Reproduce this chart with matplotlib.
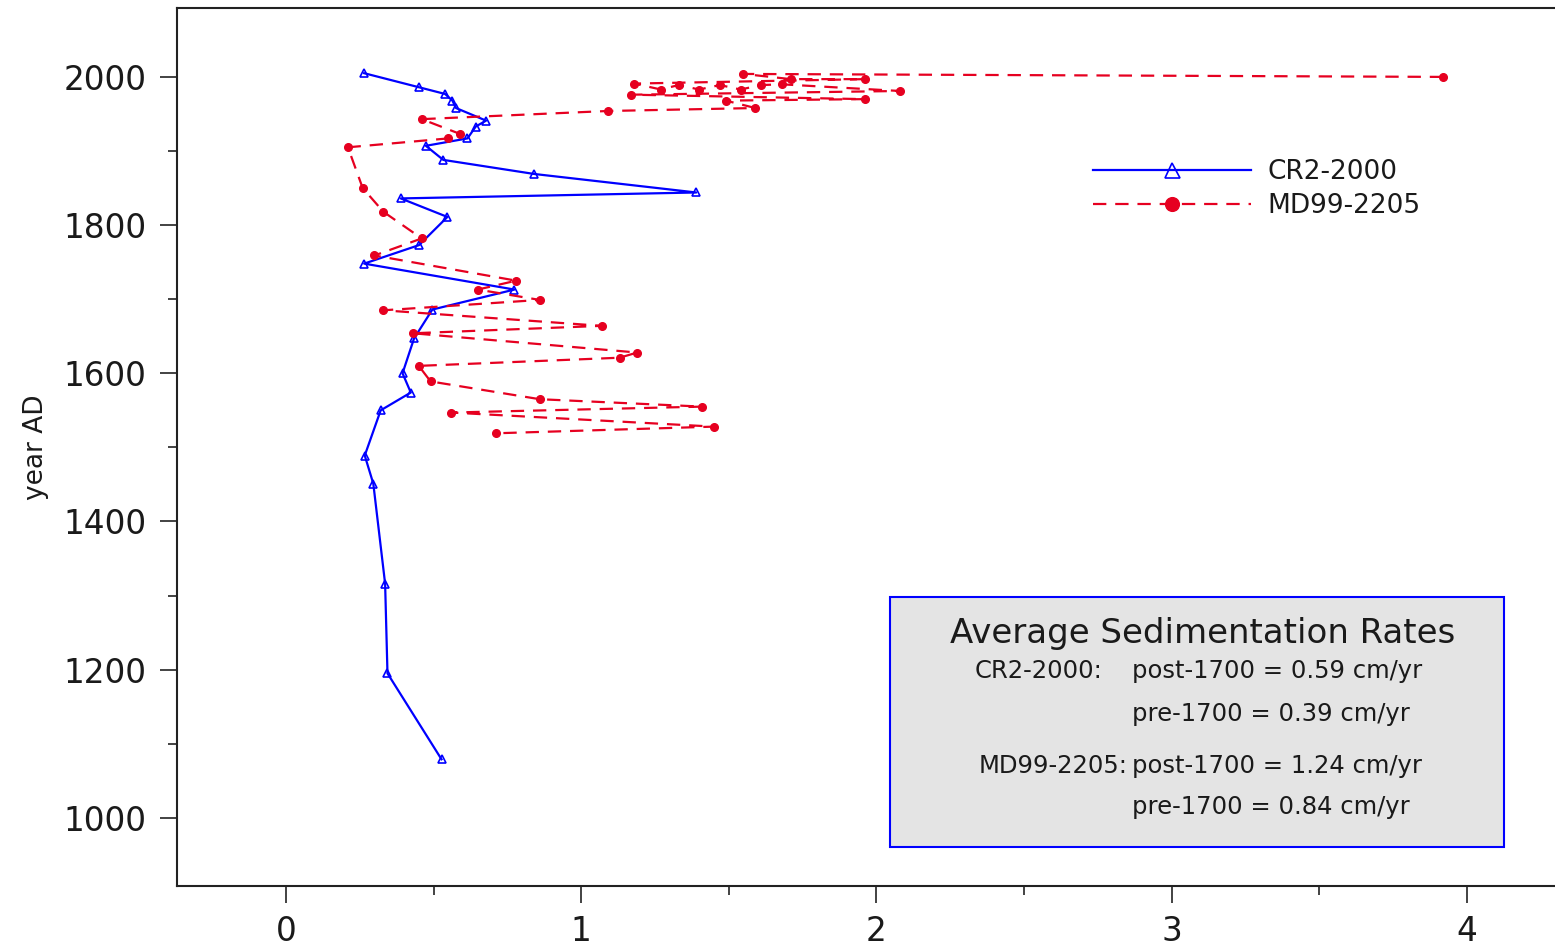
import numpy as np
import matplotlib
matplotlib.use("Agg")
import matplotlib.pyplot as plt
from matplotlib.patches import Rectangle

plt.rcParams['font.family'] = ['DejaVu Sans']

# CR2-2000 sedimentation rate (cm/yr) vs year AD
cr2_rate = [0.265, 0.451, 0.539, 0.564, 0.576, 0.678, 0.643, 0.615, 0.474, 0.533,
            0.841, 1.39, 0.389, 0.547, 0.451, 0.265, 0.774, 0.496, 0.434, 0.395,
            0.423, 0.321, 0.267, 0.296, 0.336, 0.344, 0.527]
cr2_year = [2005, 1986, 1977, 1968, 1958, 1941, 1933, 1917, 1907, 1888,
            1869, 1844, 1836, 1811, 1773, 1748, 1713, 1686, 1647, 1600,
            1574, 1550, 1489, 1451, 1316, 1195, 1079]

# MD99-2205
md_rate = [3.92, 1.55, 1.71, 1.96, 1.18, 1.27, 1.33, 1.40, 1.47, 1.54,
           1.61, 1.68, 2.08, 1.17, 1.96, 1.49, 1.59, 1.09, 0.46, 0.59,
           0.55, 0.21, 0.26, 0.33, 0.46, 0.30, 0.78, 0.65, 0.86, 0.33,
           1.07, 0.43, 1.19, 1.13, 0.45, 0.49, 0.86, 1.41, 0.56, 1.45, 0.71]
md_year = [2000, 2004, 1997, 1997, 1991, 1983, 1989, 1983, 1989, 1983,
           1989, 1990, 1981, 1976, 1970, 1968, 1958, 1954, 1943, 1923,
           1917, 1905, 1850, 1818, 1782, 1759, 1725, 1713, 1699, 1685,
           1664, 1654, 1628, 1621, 1610, 1589, 1565, 1555, 1547, 1528, 1519]

box_title = "Average Sedimentation Rates"
box_lines = [("CR2-2000:", "post-1700 = 0.59 cm/yr"),
             ("", "pre-1700 = 0.39 cm/yr"),
             ("MD99-2205:", "post-1700 = 1.24 cm/yr"),
             ("", "pre-1700 = 0.84 cm/yr")]

fig = plt.figure(figsize=(15.55, 9.5), dpi=100)
ax = fig.add_axes([177/1555, 64/950, 1 - 177/1555, 878/950])

red = '#e60020'
ax.plot(cr2_rate, cr2_year, '-', color='blue', lw=1.6, marker='^',
        ms=6, mfc='none', mec='blue', mew=1.2, label="CR2-2000")
ax.plot(md_rate, md_year, color=red, lw=1.6, ls=(0, (6, 4)), marker='o',
        ms=5.5, mfc=red, mec=red, label="MD99-2205")

ax.set_xlim(-0.369, 4.299)
ax.set_ylim(908, 2093)
ax.set_xticks([0, 1, 2, 3, 4])
ax.set_xticks([0.5, 1.5, 2.5, 3.5], minor=True)
ax.set_yticks([1000, 1200, 1400, 1600, 1800, 2000])
ax.set_yticks([1100, 1300, 1500, 1700, 1900], minor=True)
ax.tick_params(which='major', length=12, width=1.2, labelsize=23.5, color='#222222',
               labelcolor='#1a1a1a')
ax.tick_params(which='minor', length=6.5, width=1.2, color='#222222')
ax.tick_params(axis='x', which='major', pad=9)
ax.tick_params(axis='y', which='major', pad=10)
ax.set_ylabel("year AD", fontsize=19, labelpad=10, color='#1a1a1a')
for s in ['left', 'bottom', 'top']:
    ax.spines[s].set_linewidth(1.5)
    ax.spines[s].set_color('#222222')
ax.spines['right'].set_visible(False)

leg = ax.legend(loc='center left', bbox_to_anchor=(0.6647, 0.794), frameon=False,
                fontsize=19, handlelength=6, handletextpad=0.6, labelspacing=0.3,
                borderpad=0, borderaxespad=0, markerscale=1.8)
for t in leg.get_texts():
    t.set_color('#1a1a1a')

# summary box
x0, x1 = (890 - 177) / 1378, (1504 - 177) / 1378
y0, y1 = (886 - 847) / 878, (886 - 597) / 878
ax.add_patch(Rectangle((x0, y0), x1 - x0, y1 - y0, transform=ax.transAxes,
                       facecolor='#e4e4e4', edgecolor='blue', lw=1.5, zorder=5))

def ax_x(px):
    return (px - 177) / 1378

def ax_y(py):
    return (886 - py) / 878

ax.text(ax_x(1203), ax_y(634), box_title, transform=ax.transAxes, fontsize=24.5,
        ha='center', va='center', color='#1a1a1a', zorder=6)
rows_y = [671, 714, 766, 807]
lab_right = [1102, None, 1128, None]
for (lab, val), py, rx in zip(box_lines, rows_y, lab_right):
    if lab:
        ax.text(ax_x(rx), ax_y(py), lab, transform=ax.transAxes, fontsize=17.5,
                ha='right', va='center', color='#1a1a1a', zorder=6)
    ax.text(ax_x(1132), ax_y(py), val, transform=ax.transAxes, fontsize=17.5,
            ha='left', va='center', color='#1a1a1a', zorder=6)

fig.savefig("out.png", dpi=100)
